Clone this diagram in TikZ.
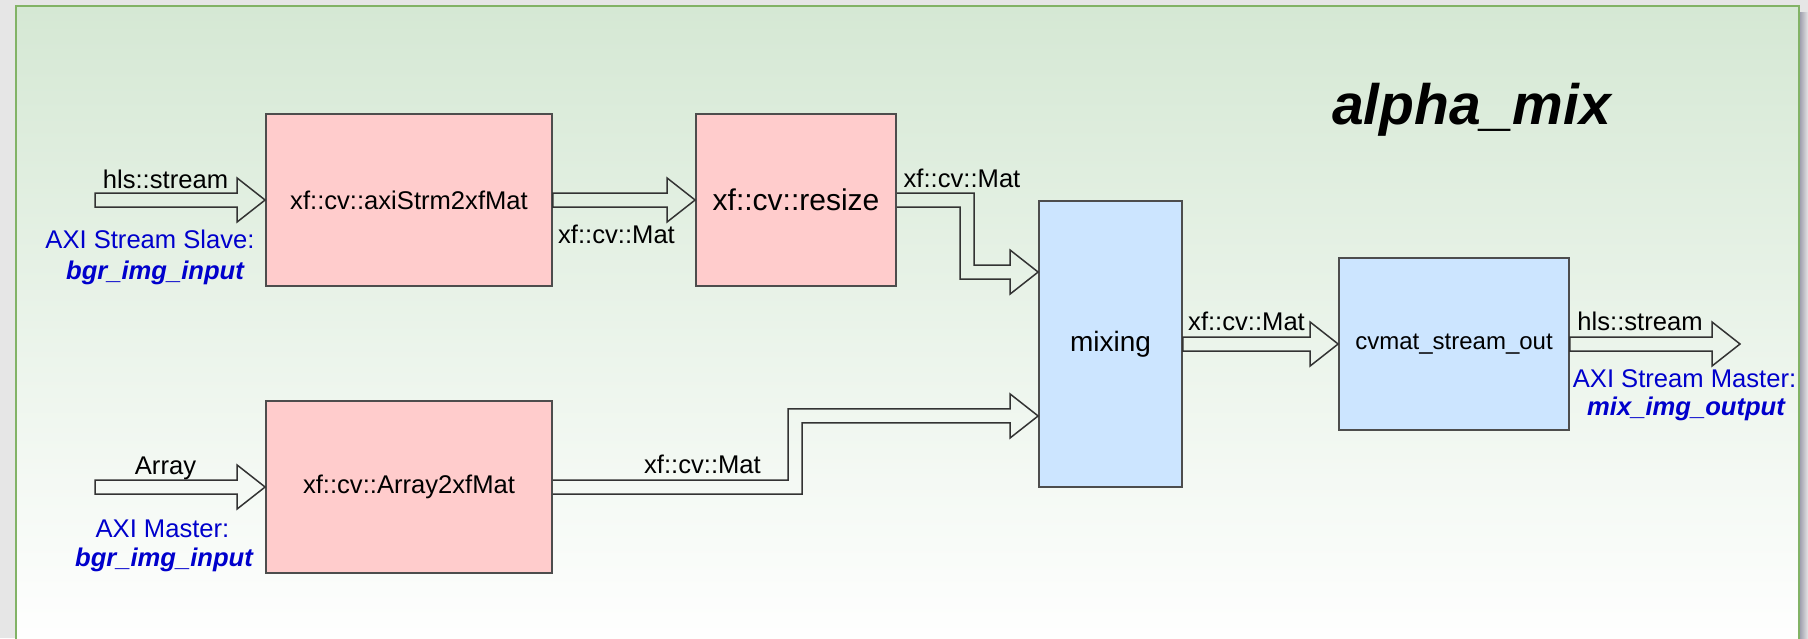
\documentclass[tikz,border=0pt]{standalone}
\usepackage{fontspec}
\setmainfont{Liberation Sans}
\usetikzlibrary{calc}
\definecolor{bggray}{HTML}{E6E6E6}
\definecolor{shadowgray}{HTML}{9898A8}
\definecolor{framegreen}{HTML}{82B366}
\definecolor{gtop}{HTML}{D5E8D4}
\definecolor{pinkfill}{HTML}{FFCCCC}
\definecolor{bluefill}{HTML}{CCE5FF}
\definecolor{boxline}{HTML}{4D4D4D}
\definecolor{axiblue}{RGB}{0,0,204}
\definecolor{arrline}{HTML}{333333}
\newcommand\blkarrow[2]{%
  \draw[blk] ($(#1)+(0,-7)$) -- ($(#2)+(-28,-7)$) -- ($(#2)+(-28,-22)$) -- (#2)
    -- ($(#2)+(-28,22)$) -- ($(#2)+(-28,7)$) -- ($(#1)+(0,7)$) -- cycle;}
\begin{document}
\begin{tikzpicture}[x=0.5pt,y=-0.5pt,
  lbl/.style={font=\fontsize{12.8}{15}\selectfont, inner sep=0pt, anchor=base, text=black},
  axilbl/.style={font=\fontsize{12.8}{15}\selectfont, inner sep=0pt, anchor=base, text=axiblue},
  axiname/.style={font=\fontsize{12.8}{15}\selectfont\bfseries\itshape, inner sep=0pt, anchor=base, text=axiblue},
  pinkbox/.style={draw=boxline, line width=0.9pt, fill=pinkfill, inner sep=0pt,
    font=\fontsize{12.8}{15}\selectfont},
  bluebox/.style={draw=boxline, line width=0.9pt, fill=bluefill, inner sep=0pt,
    font=\fontsize{12.8}{15}\selectfont},
  blk/.style={draw=arrline, line width=0.75pt, line join=miter}]
\useasboundingbox (0,0) rectangle (1808,638);
% background and frame
\fill[bggray] (0,0) rectangle (1808,638);
\shade[left color=shadowgray, right color=bggray] (1799,12) rectangle (1808,660);
\shade[top color=gtop, bottom color=white] (16,6) rectangle (1799,650);
\draw[framegreen, line width=0.8pt] (16,650) -- (16,6) -- (1799,6) -- (1799,650);
% title
\node[inner sep=0pt, anchor=base, font=\fontsize{28.5}{34}\selectfont\bfseries\itshape]
  (title) at (1471.5,124) {alpha\_mix};
% boxes
\node[pinkbox, minimum width=143pt, minimum height=86pt] (b1) at (409,200) {xf::cv::axiStrm2xfMat};
\node[pinkbox, minimum width=100pt, minimum height=86pt, font=\fontsize{15}{18}\selectfont] (b2) at (796,200) {xf::cv::resize};
\node[pinkbox, minimum width=143pt, minimum height=86pt] (b3) at (409,487) {xf::cv::Array2xfMat};
\node[bluebox, minimum width=71.5pt, minimum height=143pt, font=\fontsize{14}{17}\selectfont] (mix) at (1110.5,344) {mixing};
\node[bluebox, minimum width=115pt, minimum height=86pt, font=\fontsize{12}{14}\selectfont] (out) at (1454,344) {cvmat\_stream\_out};
% helper coordinates
\coordinate (in1) at (95,200);
\coordinate (in2) at (95,487);
\coordinate (oend) at (1740,344);
\coordinate (t1) at ($(mix.north west)!0.25!(mix.south west)$);
\coordinate (t2) at ($(mix.north west)!0.75!(mix.south west)$);
\coordinate (k1) at (967,0);
\coordinate (k2) at (795,0);
% straight block arrows
\blkarrow{in1}{b1.west}
\blkarrow{b1.east}{b2.west}
\blkarrow{in2}{b3.west}
\blkarrow{mix.east}{out.west}
\blkarrow{out.east}{oend}
% bent block arrow resize -> mixing
\draw[blk] ($(b2.east)+(0,-7)$) -- ($(k1 |- b2.east)+(7,-7)$) -- ($(k1 |- t1)+(7,-7)$)
  -- ($(t1)+(-28,-7)$) -- ($(t1)+(-28,-22)$) -- (t1) -- ($(t1)+(-28,22)$) -- ($(t1)+(-28,7)$)
  -- ($(k1 |- t1)+(-7,7)$) -- ($(k1 |- b2.east)+(-7,7)$) -- ($(b2.east)+(0,7)$);
% bent block arrow Array2xfMat -> mixing
\draw[blk] ($(b3.east)+(0,-7)$) -- ($(k2 |- b3.east)+(-7,-7)$) -- ($(k2 |- t2)+(-7,-7)$)
  -- ($(t2)+(-28,-7)$) -- ($(t2)+(-28,-22)$) -- (t2) -- ($(t2)+(-28,22)$) -- ($(t2)+(-28,7)$)
  -- ($(k2 |- t2)+(7,7)$) -- ($(k2 |- b3.east)+(7,7)$) -- ($(b3.east)+(0,7)$);
% labels
\node[lbl] (hlsin) at (165.5,188) {hls::stream};
\node[axilbl] (slave1) at (150,248) {AXI Stream Slave:};
\node[axiname] (slave2) at (155,279) {bgr\_img\_input};
\node[lbl] (arr) at (165.5,474) {Array};
\node[axilbl] (mast1) at (162.5,537) {AXI Master:};
\node[axiname] (mast2) at (164,566) {bgr\_img\_input};
\node[lbl] (mat1) at (616.5,243) {xf::cv::Mat};
\node[lbl] (mat2) at (962,187) {xf::cv::Mat};
\node[lbl] (mat3) at (702.5,473) {xf::cv::Mat};
\node[lbl] (mat4) at (1246.5,330) {xf::cv::Mat};
\node[lbl] (hlsout) at (1640,330) {hls::stream};
\node[axilbl] (omast1) at (1684.5,387) {AXI Stream Master:};
\node[axiname] (omast2) at (1686,415) {mix\_img\_output};
\end{tikzpicture}
\end{document}
